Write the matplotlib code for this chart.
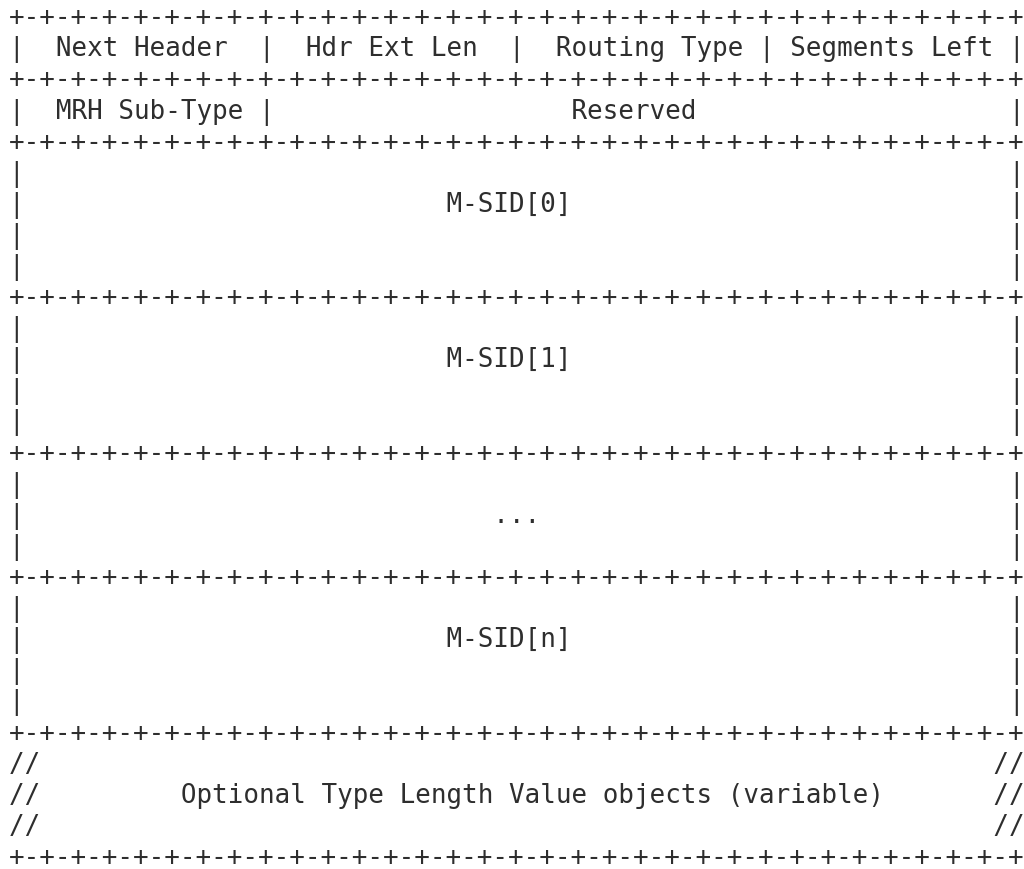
import matplotlib
matplotlib.use("Agg")
import matplotlib.pyplot as plt

# packet layout, one string per text row
rule = "+-+" + "-+" * 31
header_fields = ["  Next Header  ", "  Hdr Ext Len  ", "  Routing Type ", " Segments Left "]
mrh_fields = ["  MRH Sub-Type ", "                   Reserved                    "]
sid_labels = ["M-SID[0]", "M-SID[1]", "...", "M-SID[n]"]
sid_rows = [4, 4, 3, 4]          # inner rows per block
sid_label_col = [27, 27, 30, 27]  # spaces before the label
tlv_label = "Optional Type Length Value objects (variable)"

width = len(rule)  # 65 chars
inner = width - 2

lines = [rule]
lines.append("|" + "|".join(header_fields) + "|")
lines.append(rule)
lines.append("|" + "|".join(mrh_fields) + "|")
lines.append(rule)
for lab, n, col in zip(sid_labels, sid_rows, sid_label_col):
    for r in range(n):
        if r == 1:
            lines.append("|" + (" " * col + lab).ljust(inner) + "|")
        else:
            lines.append("|" + " " * inner + "|")
    lines.append(rule)
lines.append("//" + " " * (width - 4) + "//")
lines.append("//" + (" " * 9 + tlv_label).ljust(width - 4) + "//")
lines.append("//" + " " * (width - 4) + "//")
lines.append(rule)

W, H = 1024, 869
fig = plt.figure(figsize=(W / 100, H / 100), dpi=100)
ax = fig.add_axes([0, 0, 1, 1])
ax.set_xlim(0, W)
ax.set_ylim(H, 0)
ax.axis("off")

x0 = 8.9
y0 = 25.2      # baseline of first row
step = 31.1    # row pitch in px
for i, line in enumerate(lines):
    ax.text(x0, y0 + step * i, line, family="DejaVu Sans Mono", fontsize=18.62,
            color="#2e2e2e", ha="left", va="baseline")

fig.savefig("out.png", dpi=100, facecolor="white")
